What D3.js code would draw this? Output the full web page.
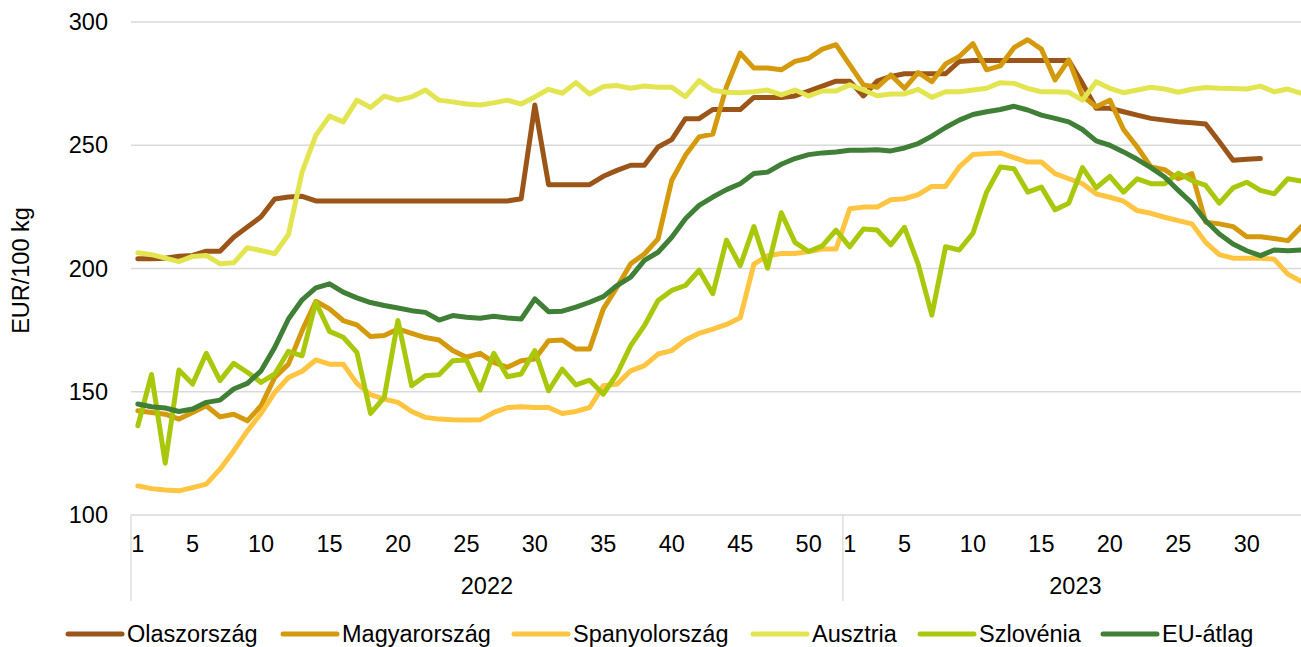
<!DOCTYPE html>
<html>
<head>
<meta charset="utf-8">
<script src="https://cdn.jsdelivr.net/npm/d3@7"></script>
<style>
html,body{margin:0;padding:0;background:#fff;}
svg{display:block;font-family:"Liberation Sans",Arial,sans-serif;}
</style>
</head>
<body>
<svg id="chart" width="1301" height="647"></svg>
<script>
// ---- data ----
const years = ["2022", "2023"];
const weeks2022 = d3.range(1, 53);
const weeks2023 = d3.range(1, 35);
const categories = weeks2022.map(w => ({year: "2022", week: w}))
  .concat(weeks2023.map(w => ({year: "2023", week: w})));
const yTicks = [100, 150, 200, 250, 300];
const seriesNames = ["Olaszország", "Magyarország", "Spanyolország", "Ausztria", "Szlovénia", "EU-átlag"];
const seriesColors = ["#9C5518", "#D49A0C", "#FFC440", "#E3E550", "#A9C80C", "#3F7F36"];

const olaszorszag = [204,204,204.2,205,205.3,207,207,212.7,216.8,221,228.2,229,229.3,227.4,
  227.4,227.4,227.4,227.4,227.4,227.4,227.4,227.4,227.4,227.4,227.4,227.4,227.4,227.4,
  228.3,266.3,234,234,234,234,237.4,239.8,241.9,241.9,249.3,252.3,260.8,260.8,264.5,264.5,264.5,
  269.4,269.4,269.4,270,272,274,276,
  276,270,276,277.9,279,279,279,279,284,284.4,284.4,284.4,284.4,284.4,284.4,284.4,284.4,
  275.1,265,265,263.6,262.2,260.9,260.2,259.5,259.1,258.6,251.4,243.9,244.3,244.6,null,null,null];
const magyarorszag = [142.3,141.6,140.9,138.9,141.6,144.3,139.8,140.9,138.2,144.3,155.8,161.2,174.8,186.7,
  183.6,178.9,177.1,172.4,172.8,175.5,173.7,172,171,166.7,164,165.6,161.9,159.9,162.6,163.3,
  170.7,171,167.3,167.3,183.6,192.4,201.9,205.9,212,235.8,245.9,253.4,254.5,273.8,287.4,281.3,
  281.3,280.6,284,285.3,289,290.8,
  282.6,274.5,273.5,278.5,273.1,279.5,275.8,283,286,291.2,280.6,282.2,289.6,292.8,289,276.5,
  284.6,270,265.6,268.3,256.4,249.3,241.2,240.1,236.4,238.5,218.8,218.1,217,212.9,212.9,212.2,211.3,217];
const spanyolorszag = [111.8,110.7,110.1,109.8,111.1,112.5,118.6,126,134.1,141.2,149.7,155.8,158.3,162.9,
  161.2,161.2,153.4,148.8,147,145.7,142,139.6,138.9,138.6,138.5,138.6,141.6,143.6,143.9,143.6,
  143.6,141.2,142,143.6,152.4,153.1,158.5,160.6,165.3,166.7,171,173.7,175.4,177.3,180,201.8,
  205.2,206.1,206.1,206.9,207.9,207.9,
  224.2,224.9,224.9,227.9,228.3,230,233.3,233.3,241.2,246.2,246.6,246.9,245,243.2,243.2,238.5,
  236.4,234.4,230.3,228.9,227.3,223.5,222.4,220.8,219.4,218.1,210.6,205.6,204.2,204.2,204.2,203.8,197.7,194.7];
const ausztria = [206.4,205.6,204.2,202.8,204.9,205.3,201.9,202.3,208.4,207.3,206,213.8,239.2,254,
  261.8,259.5,268.3,265.3,269.9,268.3,269.6,272.4,268.3,267.6,266.7,266.3,267.2,268.3,266.7,269.6,
  272.7,271.1,275.4,270.8,273.8,274.2,273.1,274,273.5,273.5,269.7,276.2,272.3,271.5,271.3,271.7,
  272.4,270.4,272.4,270,272,272,
  274.5,272.4,270.1,270.8,270.8,272.7,269.4,271.7,271.7,272.4,273.1,275.4,275.1,273.1,271.7,271.7,
  271.5,268.3,275.8,273.1,271.3,272.4,273.5,272.8,271.5,272.7,273.4,273.1,273,272.8,274,271.7,272.8,271];
const szlovenia = [136.2,157,121,158.8,153.1,165.6,154.5,161.5,157.9,153.8,157.2,166.4,164.6,186.3,
  174.5,172.1,166,141.2,147.7,178.9,152.4,156.5,156.9,162.6,162.9,150.7,165.6,156.1,157.2,166.7,
  150.4,159.2,152.8,154.7,149,157.2,168.7,176.8,187,191.1,193.1,199.3,189.8,211.5,201.1,217,
  200.1,222.6,210.6,206.9,209.2,215.6,
  208.8,216,215.6,209.6,216.7,201.8,181.1,208.8,207.5,214.3,231,241.2,240.5,231,233,223.8,
  226.5,240.9,232.7,237.4,231,236.4,234.4,234.4,238.7,235.7,233.7,226.5,232.7,235,231.7,230.3,236.4,235.5];
const euAtlag = [145,143.9,143.4,142,143,145.7,146.6,151.1,153.4,158.5,168,179.5,187.3,192.1,
  193.8,190.4,188.1,186.2,185,184,182.9,182.2,179.1,180.9,180.2,179.8,180.6,179.9,179.5,187.7,
  182.5,182.7,184.3,186.3,188.6,193.1,196.5,203.3,206.6,212.7,220.2,225.6,229,232,234.4,238.5,
  239.1,242.3,244.6,246.2,246.9,247.3,
  248,248,248.2,247.7,248.9,250.7,253.7,257.2,260.2,262.5,263.6,264.5,265.8,264.3,262.2,260.9,
  259.5,256.4,251.8,250,247.3,244.3,240.9,237.1,231.7,226.5,219.4,214,209.9,207.2,205.2,207.5,207.2,207.5];
const seriesValues = [olaszorszag, magyarorszag, spanyolorszag, ausztria, szlovenia, euAtlag];

// ---- layout ----
const svg = d3.select("#chart");
const plotL = 131, bandW = 13.69;
const plotR = plotL + categories.length * bandW;
const plotT = 22, plotB = 515;
const gridColor = "#D9D9D9";
const fs = 23.5;

const x = d3.scaleBand().domain(d3.range(categories.length)).range([plotL, plotR]).padding(0);
const xc = i => x(i) + x.bandwidth() / 2;
const y = d3.scaleLinear().domain([100, 300]).range([plotB, plotT]);

// gridlines
svg.append("g").selectAll("line").data(yTicks.slice(1)).join("line")
  .attr("x1", plotL).attr("x2", 1301)
  .attr("y1", d => y(d)).attr("y2", d => y(d))
  .attr("stroke", gridColor).attr("stroke-width", 1.3);

// y axis labels
const yAxis = d3.axisLeft(y).tickValues(yTicks).tickSize(0).tickPadding(0);
const gy = svg.append("g").attr("transform", `translate(${plotL - 23},0)`).call(yAxis);
gy.select(".domain").remove();
gy.selectAll("text").attr("font-size", fs).attr("fill", "#000")
  .attr("font-family", "Liberation Sans, Arial, sans-serif");

svg.append("text").attr("transform", `translate(29,${(plotT + plotB) / 2 + 2}) rotate(-90)`)
  .attr("text-anchor", "middle").attr("font-size", fs).attr("fill", "#000")
  .text("EUR/100 kg");

// x axis line and group separators
svg.append("line").attr("x1", plotL).attr("x2", 1301).attr("y1", plotB).attr("y2", plotB)
  .attr("stroke", gridColor).attr("stroke-width", 1.3);
const yearStart = [0, weeks2022.length, categories.length];
svg.append("g").selectAll("line").data(yearStart.slice(0, 2)).join("line")
  .attr("x1", d => x(d)).attr("x2", d => x(d))
  .attr("y1", plotB).attr("y2", 601)
  .attr("stroke", gridColor).attr("stroke-width", 1.3);

// week labels
const labelIdx = categories.map((c, i) => i).filter(i => categories[i].week === 1 || categories[i].week % 5 === 0);
const xAxis = d3.axisBottom(x).tickValues(labelIdx).tickSize(0).tickPadding(0)
  .tickFormat(i => categories[i].week);
const gx = svg.append("g").attr("transform", `translate(0,${plotB + 20})`).call(xAxis);
gx.select(".domain").remove();
gx.selectAll("text").attr("font-size", fs).attr("fill", "#000")
  .attr("font-family", "Liberation Sans, Arial, sans-serif");

// year labels
svg.append("g").selectAll("text").data(years).join("text")
  .attr("x", (d, k) => (x(yearStart[k]) + Math.min(x(yearStart[k + 1] - 1) + bandW, 1308)) / 2)
  .attr("y", 594).attr("text-anchor", "middle").attr("font-size", fs).attr("fill", "#000")
  .text(d => d);

// lines
const line = d3.line().defined(d => d != null).x((d, i) => xc(i)).y(d => y(d));
svg.append("g").selectAll("path").data(seriesValues).join("path")
  .attr("d", d => line(d))
  .attr("fill", "none")
  .attr("stroke", (d, k) => seriesColors[k])
  .attr("stroke-width", 5)
  .attr("stroke-linejoin", "round")
  .attr("stroke-linecap", "round");

// legend
const legendX = [68, 283, 514, 753, 920, 1103];
const lg = svg.append("g").selectAll("g").data(seriesNames).join("g")
  .attr("transform", (d, k) => `translate(${legendX[k]},634)`);
lg.append("line").attr("x1", 0).attr("x2", 54).attr("y1", 0).attr("y2", 0)
  .attr("stroke", (d, k) => seriesColors[k]).attr("stroke-width", 5).attr("stroke-linecap", "round");
lg.append("text").attr("x", 59).attr("y", 8).attr("font-size", fs).attr("fill", "#000").text(d => d);
</script>
</body>
</html>
